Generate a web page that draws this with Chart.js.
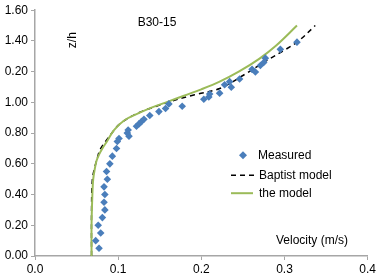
<!DOCTYPE html>
<html>
	<head>
		<meta charset="utf-8">
		<title>B30-15</title>
		<script src="https://cdn.jsdelivr.net/npm/chart.js"></script>
		<style>
			html, body { margin: 0; padding: 0; background: #fff; }
			#wrap { width: 378px; height: 278px; position: relative; }
		</style>
	</head>
	<body>
		<div id="wrap"><canvas id="chart"></canvas></div>
		<script type="text/javascript">
			// measured points (velocity, z/h)
			const measuredX = [0.077, 0.073, 0.079, 0.076, 0.081, 0.084, 0.083, 0.084, 0.083, 0.087, 0.086, 0.090, 0.093, 0.098, 0.099, 0.101, 0.113, 0.111, 0.112, 0.122, 0.125, 0.128, 0.131, 0.138, 0.149, 0.157, 0.161, 0.177, 0.203, 0.209, 0.210, 0.222, 0.228, 0.236, 0.234, 0.246, 0.261, 0.265, 0.271, 0.275, 0.277, 0.295, 0.315];
			const measuredY = [0.05, 0.10, 0.15, 0.20, 0.25, 0.30, 0.35, 0.40, 0.45, 0.50, 0.55, 0.60, 0.65, 0.70, 0.745, 0.765, 0.78, 0.80, 0.82, 0.845, 0.86, 0.875, 0.89, 0.915, 0.94, 0.96, 0.99, 0.975, 1.02, 1.035, 1.055, 1.06, 1.115, 1.098, 1.135, 1.152, 1.215, 1.198, 1.24, 1.26, 1.288, 1.345, 1.392];

			// Baptist model
			const baptistX = [0.068, 0.068, 0.069, 0.072, 0.075, 0.078, 0.084, 0.091, 0.100, 0.113, 0.130, 0.146, 0.162, 0.192, 0.222, 0.250, 0.278, 0.300, 0.317, 0.337];
			const baptistY = [0.00, 0.30, 0.50, 0.58, 0.64, 0.69, 0.74, 0.79, 0.85, 0.90, 0.945, 0.975, 1.005, 1.05, 1.09, 1.175, 1.27, 1.34, 1.40, 1.50];

			// the model
			const modelX = [0.068, 0.068, 0.069, 0.070, 0.072, 0.074, 0.077, 0.081, 0.087, 0.095, 0.108, 0.124, 0.140, 0.160, 0.180, 0.200, 0.222, 0.245, 0.270, 0.290, 0.315];
			const modelY = [0.00, 0.20, 0.40, 0.50, 0.57, 0.62, 0.66, 0.70, 0.75, 0.82, 0.885, 0.928, 0.966, 1.005, 1.045, 1.085, 1.135, 1.20, 1.285, 1.37, 1.50];

			// y tick labels as printed on the original (note the 0.20 at 1.20)
			const yTickLabels = ['0.00', '0.20', '0.40', '0.60', '0.80', '1.00', '0.20', '1.40', '1.60'];
			const seriesNames = ['Measured', 'Baptist model', 'the model'];

			const blue = '#4a7ebb', green = '#9bbb59', axisGray = '#a6a6a6';
			const font = 'Liberation Sans, Arial, sans-serif';

			function pts(xs, ys) {
				return xs.map((x, i) => ({ x: x, y: ys[i] }));
			}

			// texts and inside legend
			const extras = {
				id: 'extras',
				afterDraw(chart) {
					const ctx = chart.ctx, a = chart.chartArea;
					ctx.save();
					ctx.fillStyle = '#000';
					ctx.font = '12px ' + font;
					ctx.textBaseline = 'middle';
					ctx.textAlign = 'center';
					ctx.fillText('B30-15', a.left + 122, a.top + 12);
					ctx.fillText('Velocity (m/s)', a.left + 277, a.bottom - 15);
					ctx.save();
					ctx.translate(a.left + 38, a.top + 30);
					ctx.rotate(-Math.PI / 2);
					ctx.fillText('z/h', 0, 0);
					ctx.restore();

					// legend
					ctx.textAlign = 'left';
					const lx = a.left + 196, ly = a.top + 145;
					ctx.fillStyle = blue;
					ctx.beginPath();
					ctx.moveTo(lx + 12, ly - 4);
					ctx.lineTo(lx + 16, ly);
					ctx.lineTo(lx + 12, ly + 4);
					ctx.lineTo(lx + 8, ly);
					ctx.closePath();
					ctx.fill();
					ctx.fillStyle = '#000';
					ctx.fillText(seriesNames[0], lx + 27, ly);

					ctx.strokeStyle = '#000';
					ctx.lineWidth = 1.5;
					ctx.setLineDash([5, 4]);
					ctx.beginPath();
					ctx.moveTo(lx, ly + 20);
					ctx.lineTo(lx + 24, ly + 20);
					ctx.stroke();
					ctx.setLineDash([]);
					ctx.fillText(seriesNames[1], lx + 28, ly + 20);

					ctx.strokeStyle = green;
					ctx.lineWidth = 2;
					ctx.beginPath();
					ctx.moveTo(lx, ly + 38);
					ctx.lineTo(lx + 22, ly + 38);
					ctx.stroke();
					ctx.fillText(seriesNames[2], lx + 28, ly + 38);
					ctx.restore();
				}
			};

			new Chart(document.getElementById('chart'), {
				type: 'scatter',
				data: {
					datasets: [
						{ label: seriesNames[0], order: 0, data: pts(measuredX, measuredY), pointStyle: 'rectRot', pointRadius: 3.8, pointBackgroundColor: blue, pointBorderColor: blue, borderWidth: 0, showLine: false },
						{ label: seriesNames[1], order: 2, data: pts(baptistX, baptistY), showLine: true, pointRadius: 0, borderColor: '#000', borderWidth: 1.5, borderDash: [5, 4], tension: 0.35, fill: false },
						{ label: seriesNames[2], order: 1, data: pts(modelX, modelY), showLine: true, pointRadius: 0, borderColor: green, borderWidth: 2, tension: 0.35, fill: false }
					]
				},
				options: {
					responsive: true,
					maintainAspectRatio: false,
					animation: false,
					layout: { padding: { top: 7, right: 9, left: 0, bottom: 0 } },
					plugins: { legend: { display: false }, tooltip: { enabled: false } },
					scales: {
						x: {
							type: 'linear', min: 0, max: 0.4,
							border: { display: true, color: axisGray, width: 1.5 },
							grid: { drawOnChartArea: false, drawTicks: true, tickLength: 4, color: axisGray },
							ticks: { stepSize: 0.1, padding: 2, color: '#000', font: { family: font, size: 12 }, callback: v => v.toFixed(1) },
							afterFit: s => { s.height = 22; }
						},
						y: {
							type: 'linear', min: 0, max: 1.6,
							border: { display: true, color: axisGray, width: 1.5 },
							grid: { drawOnChartArea: false, drawTicks: true, tickLength: 4, color: axisGray },
							ticks: { stepSize: 0.2, padding: 3, color: '#000', font: { family: font, size: 12 }, callback: v => yTickLabels[Math.round(v / 0.2)] },
							afterFit: s => { s.width = 35; }
						}
					}
				},
				plugins: [extras]
			});
		</script>
	</body>
</html>
